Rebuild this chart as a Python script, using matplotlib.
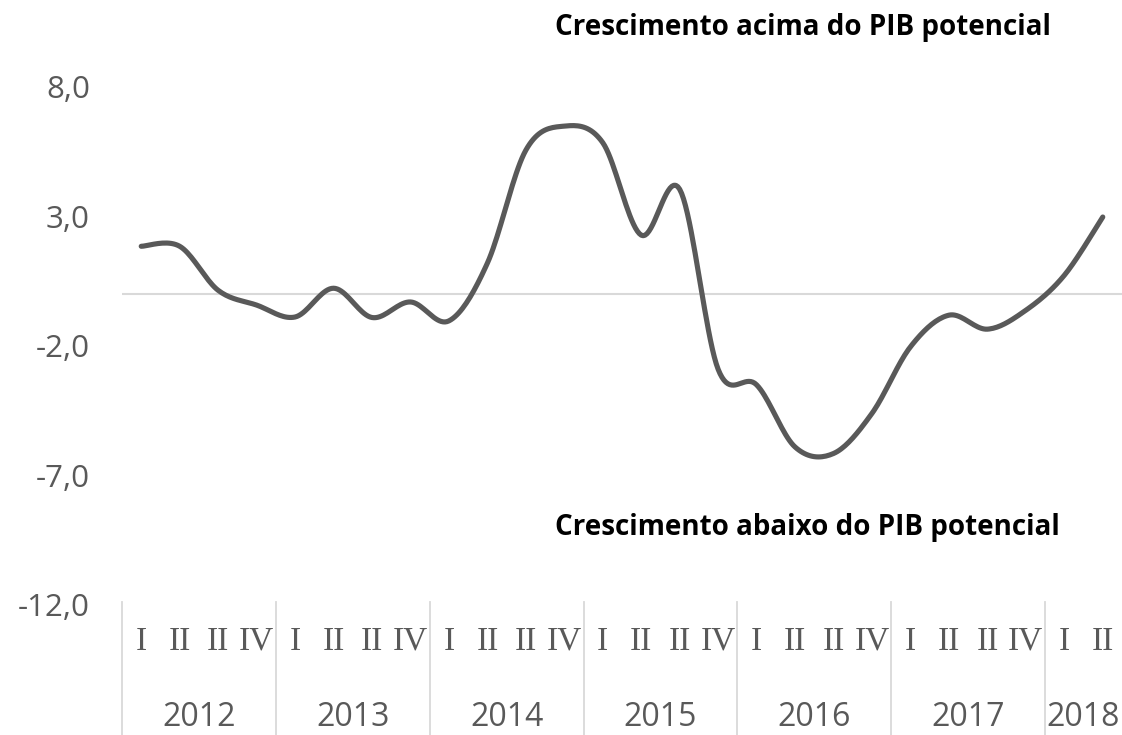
import numpy as np
import matplotlib
matplotlib.use("Agg")
import matplotlib.pyplot as plt
import matplotlib.transforms as mtransforms

# hiato do produto, trimestral 2012.I - 2018.II
years = ["2012", "2013", "2014", "2015", "2016", "2017", "2018"]
quarters_per_year = [4, 4, 4, 4, 4, 4, 2]
quarter_labels = ["I", "II", "II", "IV"]
gap = [1.85, 1.85, 0.15, -0.42, -0.88, 0.23, -0.90, -0.30, -1.03, 1.20,
       5.56, 6.49, 5.85, 2.28, 4.05, -2.90, -3.50, -5.90, -6.15, -4.60,
       -2.03, -0.81, -1.35, -0.62, 0.73, 2.98]
yticks = [8, 3, -2, -7, -12]

GREY = "#595959"


def smooth(x, y, n=20):
    """Catmull-Rom curve through the points, like Excel's smoothed line."""
    x = np.asarray(x, float)
    y = np.asarray(y, float)
    px = np.concatenate([[x[0]], x, [x[-1]]])
    py = np.concatenate([[y[0]], y, [y[-1]]])
    xs, ys = [], []
    t = np.linspace(0, 1, n, endpoint=False)
    for i in range(1, len(px) - 2):
        p0x, p1x, p2x, p3x = px[i - 1:i + 3]
        p0y, p1y, p2y, p3y = py[i - 1:i + 3]
        c1x, c1y = p1x + (p2x - p0x) / 6, p1y + (p2y - p0y) / 6
        c2x, c2y = p2x - (p3x - p1x) / 6, p2y - (p3y - p1y) / 6
        b = [(1 - t) ** 3, 3 * (1 - t) ** 2 * t, 3 * (1 - t) * t ** 2, t ** 3]
        xs.append(b[0] * p1x + b[1] * c1x + b[2] * c2x + b[3] * p2x)
        ys.append(b[0] * p1y + b[1] * c1y + b[2] * c2y + b[3] * p2y)
    xs.append([x[-1]])
    ys.append([y[-1]])
    return np.concatenate(xs), np.concatenate(ys)


fig = plt.figure(figsize=(11.22, 7.35), dpi=100)
ax = fig.add_axes([122 / 1122, 1 - 605 / 735, 1 - 122 / 1122, (605 - 87) / 735])

x = np.arange(len(gap))
sx, sy = smooth(x, gap)
ax.axhline(0, color="#d9d9d9", lw=1.5, zorder=1)
ax.plot(sx, sy, color=GREY, lw=3.7, solid_capstyle="round", zorder=3)

ax.set_xlim(-0.5, len(gap) - 0.5)
ax.set_ylim(-12, 8)
ax.set_yticks(yticks)
ax.set_yticklabels([f"{v:.1f}".replace(".", ",") for v in yticks],
                   fontsize=22.5, color=GREY, family="Open Sans")
ax.tick_params(axis="y", length=0, pad=23)
ax.set_xticks([])
for s in ax.spines.values():
    s.set_visible(False)

# eixo de categorias em dois níveis
trans = mtransforms.blended_transform_factory(ax.transData, ax.transAxes)
start = 0
for yr, nq in zip(years, quarters_per_year):
    for q in range(nq):
        ax.text(start + q, -0.07, quarter_labels[q], transform=trans,
                ha="center", va="center", fontsize=24, color=GREY,
                family="Liberation Serif", clip_on=False)
    ax.text(start + (nq - 1) / 2, -0.217, yr, transform=trans,
            ha="center", va="center", fontsize=23, color=GREY,
            family="Open Sans", clip_on=False)
    ax.plot([start - 0.5, start - 0.5], [0.005, -0.26], transform=trans,
            color="#d9d9d9", lw=1.3, clip_on=False)
    start += nq

fig.text(555 / 1122, 1 - 28 / 735, "Crescimento acima do PIB potencial",
         fontsize=20, fontweight="bold", family="Open Sans",
         ha="left", va="center", color="black")
fig.text(555 / 1122, 1 - 527 / 735, "Crescimento abaixo do PIB potencial",
         fontsize=20, fontweight="bold", family="Open Sans",
         ha="left", va="center", color="black")

fig.savefig("out.png", dpi=100)
